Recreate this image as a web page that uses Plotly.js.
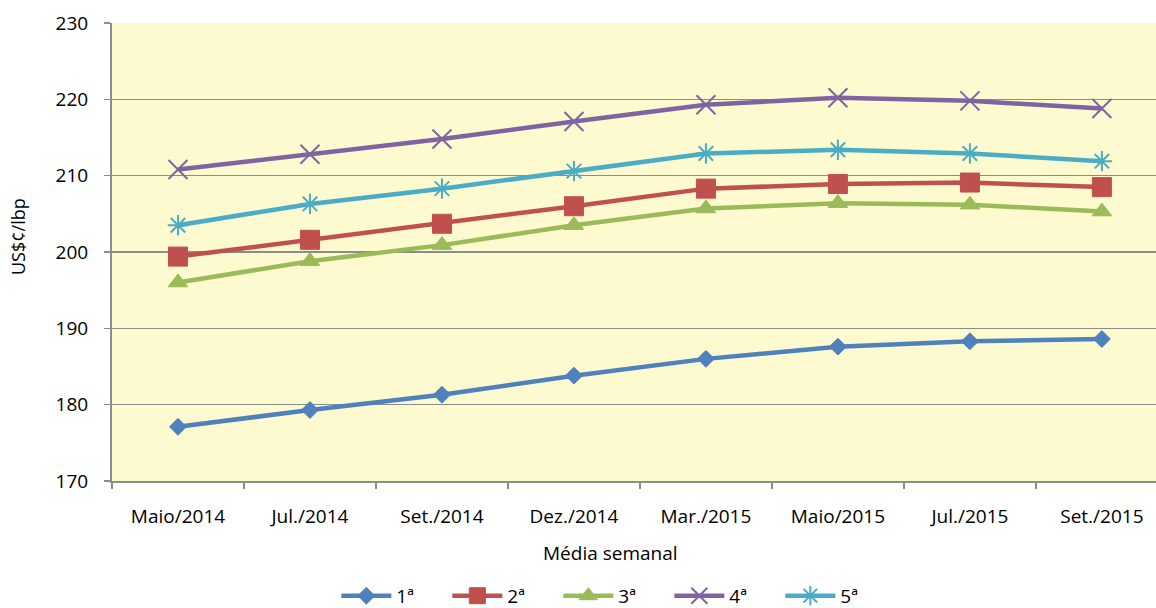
<!DOCTYPE html>
<html>
<head>
<meta charset="utf-8">
<script src="https://cdn.plot.ly/plotly-3.0.1.min.js"></script>
<style>html,body{margin:0;padding:0;background:#fff;}#chart{width:1156px;height:608px;}</style>
</head>
<body>
<div id="chart"></div>
<script>
const categories = ["Maio/2014","Jul./2014","Set./2014","Dez./2014","Mar./2015","Maio/2015","Jul./2015","Set./2015"];
const seriesNames = ["1ª","2ª","3ª","4ª","5ª"];
const s1 = [177.1, 179.3, 181.3, 183.8, 186.0, 187.6, 188.3, 188.6];
const s2 = [199.4, 201.6, 203.7, 206.0, 208.3, 208.9, 209.1, 208.5];
const s3 = [196.0, 198.8, 200.9, 203.5, 205.7, 206.4, 206.2, 205.3];
const s4 = [210.8, 212.8, 214.8, 217.1, 219.3, 220.2, 219.8, 218.8];
const s5 = [203.5, 206.3, 208.3, 210.6, 212.9, 213.4, 212.9, 211.9];
const yTicks = [170,180,190,200,210,220,230];

const colors = ["#4F81BD","#C0504D","#9BBB59","#8064A2","#4BACC6"];
const symbols = ["diamond","square","triangle-up","x-thin-open","asterisk-open"];
const sizes = [13, 19, 17, 19, 17];
const allSeries = [s1,s2,s3,s4,s5];
const font = "Open Sans, Liberation Sans, sans-serif";

const traces = allSeries.map((s,i)=>({
  x: categories,
  y: s,
  name: seriesNames[i],
  type: "scatter",
  mode: "lines+markers",
  line: {color: colors[i], width: 4.5},
  marker: {symbol: symbols[i], size: sizes[i], color: colors[i],
           line: {color: colors[i], width: (i>=3?2:1)}}
}));

const layout = {
  width: 1156, height: 608,
  margin: {l:112, r:0, t:23, b:127},
  paper_bgcolor: "#ffffff",
  plot_bgcolor: "#FDFAD0",
  font: {family: font, size: 19, color: "#000"},
  showlegend: true,
  legend: {orientation: "h", x: 0.531, xanchor: "center", y: 0.02, yanchor: "middle",
           yref: "container", xref: "container",
           itemwidth: 50, entrywidth: 46,
           font: {family: font, size: 19, color: "#000"}, traceorder: "normal"},
  xaxis: {
    type: "category",
    categoryorder: "array", categoryarray: categories,
    range: [-0.5, 7.41],
    tickson: "boundaries",
    ticks: "outside", ticklen: 6, tickwidth: 1.5, tickcolor: "#8C8C8C",
    showline: true, linecolor: "#8C8C8C", linewidth: 2,
    showgrid: false, zeroline: false,
    ticklabelstandoff: 17,
    tickfont: {family: font, size: 19}
  },
  yaxis: {
    range: [170, 230],
    tickmode: "array", tickvals: yTicks,
    ticks: "outside", ticklen: 6, tickwidth: 1.5, tickcolor: "#8C8C8C",
    showline: true, linecolor: "#8C8C8C", linewidth: 2,
    showgrid: true, gridcolor: "#8C8C8C", gridwidth: 1.5,
    zeroline: false,
    ticklabelstandoff: 12,
    tickfont: {family: font, size: 19}
  },
  annotations: [
    {text: "Média semanal", xref: "paper", yref: "paper", x: (610-112)/1044, y: (481-553)/458,
     showarrow: false, xanchor: "center", yanchor: "middle", font: {family: font, size: 19}},
    {text: "US$¢/lbp", xref: "paper", yref: "paper", x: (18-112)/1044, y: (481-237)/458,
     showarrow: false, xanchor: "center", yanchor: "middle", textangle: -90, font: {family: font, size: 18}}
  ]
};

Plotly.newPlot("chart", traces, layout, {displayModeBar: false, staticPlot: true});
</script>
</body>
</html>
